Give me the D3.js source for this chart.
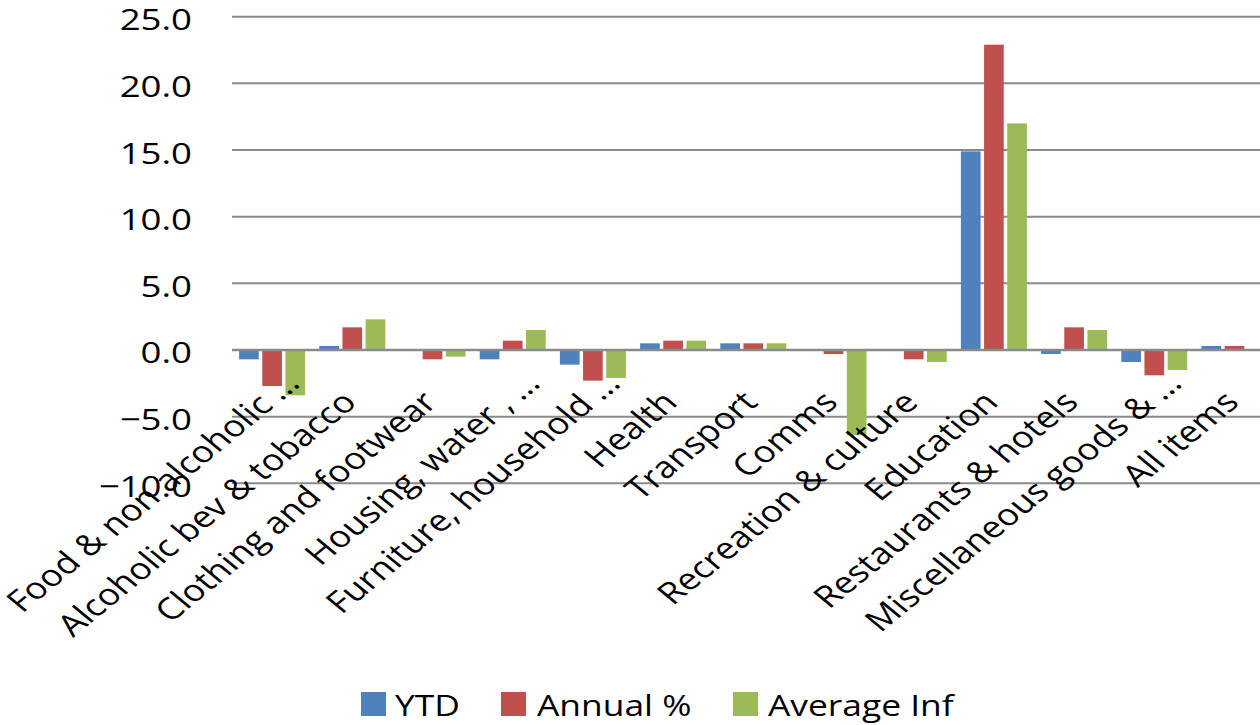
<!DOCTYPE html>
<html>
<head>
<meta charset="utf-8">
<script src="https://cdn.jsdelivr.net/npm/d3@7"></script>
<style>
  html, body { margin: 0; padding: 0; background: #fff; }
  svg { display: block; }
  text { font-family: "Open Sans", sans-serif; fill: #000; font-size: 30px; }
</style>
</head>
<body>
<svg id="chart" width="1260" height="725"></svg>
<script>
const categories = [
  "Food & non alcoholic \u2026",
  "Alcoholic bev & tobacco",
  "Clothing and footwear",
  "Housing, water , \u2026",
  "Furniture, household \u2026",
  "Health",
  "Transport",
  "Comms",
  "Recreation & culture",
  "Education",
  "Restaurants & hotels",
  "Miscellaneous goods & \u2026",
  "All items"
];
const seriesNames = ["YTD", "Annual %", "Average Inf"];
const ytd     = [-0.7, 0.3, 0.0, -0.7, -1.1, 0.5, 0.5, 0.0, 0.0, 14.9, -0.3, -0.9, 0.3];
const annual  = [-2.7, 1.7, -0.7, 0.7, -2.3, 0.7, 0.5, -0.3, -0.7, 22.9, 1.7, -1.9, 0.3];
const average = [-3.4, 2.3, -0.5, 1.5, -2.1, 0.7, 0.5, -6.4, -0.9, 17.0, 1.5, -1.5, 0.0];
const yTicks = [25, 20, 15, 10, 5, 0, -5, -10];
const colors = ["#4F81BD", "#C0504D", "#9BBB59"];

const SX = 1.22; // horizontal stretch of text as in the reference
const svg = d3.select("#chart");
const plotLeft = 232, plotRight = 1274.6;
const x = d3.scaleBand().domain(categories).range([plotLeft, plotRight]).paddingInner(0).paddingOuter(0);
const xSub = d3.scaleBand().domain(seriesNames).range([-33, 33]).paddingInner(0.15).paddingOuter(0);
const y = d3.scaleLinear().domain([-10, 25]).range([483.3, 16.7]);

// gridlines
svg.append("g").selectAll("line").data(yTicks).join("line")
  .attr("x1", plotLeft).attr("x2", plotRight)
  .attr("y1", d => y(d)).attr("y2", d => y(d))
  .attr("stroke", "#8a8a8a").attr("stroke-width", 2);

// y tick labels
svg.append("g").selectAll("text").data(yTicks).join("text")
  .attr("transform", d => `translate(192,${y(d) + 13.5}) scale(${SX},1)`)
  .attr("text-anchor", "end")
  .text(d => d3.format(".1f")(d));

// bars
const data = [ytd, annual, average];
const groups = svg.append("g").selectAll("g").data(seriesNames).join("g")
  .attr("fill", (d, i) => colors[i]);
groups.each(function(name, si) {
  d3.select(this).selectAll("rect").data(categories).join("rect")
    .attr("x", c => x(c) + x.bandwidth() / 2 + xSub(name))
    .attr("width", xSub.bandwidth())
    .attr("y", (c, i) => y(Math.max(0, data[si][i])))
    .attr("height", (c, i) => Math.abs(y(data[si][i]) - y(0)));
});

// zero axis line
svg.append("line")
  .attr("x1", plotLeft).attr("x2", plotRight)
  .attr("y1", y(0)).attr("y2", y(0))
  .attr("stroke", "#8a8a8a").attr("stroke-width", 2.5);

// category labels
svg.append("g").selectAll("text").data(categories).join("text")
  .attr("transform", c => `translate(${x(c) + x.bandwidth() / 2 + 6},404) scale(${SX},1) rotate(-45)`)
  .attr("x", c => c.endsWith("\u2026") ? 27 : 0)
  .attr("text-anchor", "end")
  .text(c => c);

// legend
const legendItems = [
  {name: "YTD", sx: 361, tx: 395},
  {name: "Annual %", sx: 501, tx: 537},
  {name: "Average Inf", sx: 733, tx: 768}
];
const lg = svg.append("g");
legendItems.forEach((d, i) => {
  lg.append("rect").attr("x", d.sx).attr("y", 692).attr("width", 25).attr("height", 24).attr("fill", colors[i]);
  lg.append("text").attr("transform", `translate(${d.tx},716) scale(${SX},1)`)
    .style("font-size", "29px").text(d.name);
});
</script>
</body>
</html>
